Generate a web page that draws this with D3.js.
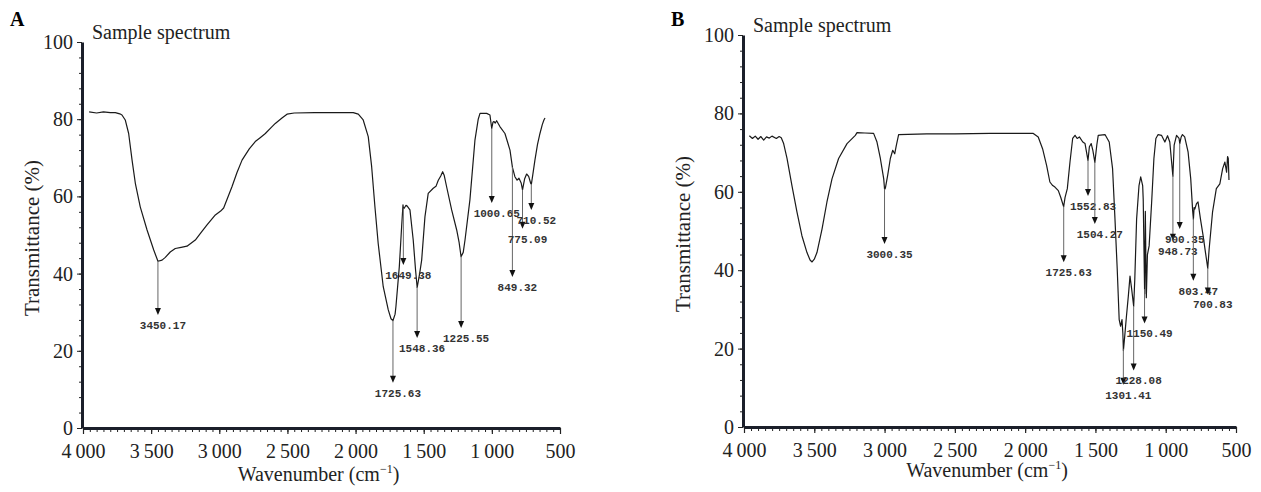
<!DOCTYPE html>
<html>
<head>
<meta charset="utf-8">
<script src="https://cdn.jsdelivr.net/npm/d3@7/dist/d3.min.js"></script>
<style>
  body { margin: 0; background: #fff; }
  svg { display: block; }
  .tick text { font-family: "Liberation Serif", "Times New Roman", serif; font-size: 20px; fill: #222; }
  .peak-label { font-family: "Liberation Mono", "DejaVu Sans Mono", monospace; font-size: 11px; font-weight: bold; fill: #333; }
</style>
</head>
<body>
<svg id="chart"></svg>
<script>
// spectrum A (wavenumber in cm-1, transmittance in %)
const specAWn = [3955, 3900, 3850, 3800, 3763, 3730, 3714, 3690, 3665, 3640, 3616, 3580, 3530, 3481, 3450, 3420, 3396, 3360, 3323, 3280, 3237, 3176, 3130, 3090, 3029, 2990, 2968, 2907, 2870, 2833, 2780, 2736, 2700, 2662, 2620, 2589, 2540, 2503, 2450, 2300, 2100, 2017, 1980, 1944, 1907, 1882, 1858, 1834, 1797, 1760, 1740, 1726, 1710, 1704, 1679, 1662, 1652, 1649, 1642, 1630, 1621, 1601, 1577, 1560, 1548, 1530, 1515, 1491, 1467, 1430, 1410, 1393, 1375, 1361, 1350, 1332, 1295, 1258, 1240, 1226, 1210, 1197, 1161, 1124, 1100, 1087, 1038, 1014, 1001, 992, 985, 975, 965, 941, 904, 867, 849, 831, 815, 801, 785, 775, 760, 745, 730, 715, 710, 700, 684, 665, 647, 630, 618, 610];
const specAT = [81.9, 81.6, 81.9, 81.7, 81.7, 81.4, 81.1, 79.8, 76.3, 69.4, 63.4, 57.3, 51.3, 46.1, 43.2, 43.5, 44.2, 45.6, 46.5, 46.8, 47.1, 48.7, 50.8, 52.6, 55.2, 56.2, 57.0, 62.5, 66.2, 69.4, 72.3, 74.2, 75.2, 76.3, 77.8, 78.9, 80.3, 81.3, 81.6, 81.7, 81.7, 81.7, 81.3, 79.8, 75.5, 67.7, 57.3, 47.8, 36.6, 30.6, 28.3, 27.8, 29.5, 31.4, 41.8, 52.2, 57.8, 56.8, 57.0, 57.7, 57.5, 56.5, 48.7, 41.0, 36.4, 40.0, 43.5, 54.7, 60.8, 62.1, 62.6, 64.2, 65.3, 66.4, 65.5, 62.5, 56.5, 51.3, 48.0, 44.4, 45.5, 48.7, 59.1, 74.6, 80.0, 81.5, 81.5, 81.1, 77.6, 79.2, 79.4, 79.0, 79.6, 78.1, 76.3, 72.0, 67.5, 65.1, 64.2, 64.7, 63.5, 61.7, 64.5, 65.8, 65.2, 63.4, 63.2, 65.5, 69.4, 73.5, 76.3, 78.6, 79.8, 80.3];
const peaksAWn = [3450.17, 1725.63, 1649.38, 1548.36, 1225.55, 1000.65, 849.32, 775.09, 710.52];
const peaksATip = [29.3, 11.7, 42.2, 23.3, 25.9, 58.3, 39.1, 51.6, 56.5];

// spectrum B
const specBWn = [3962, 3940, 3920, 3900, 3880, 3860, 3840, 3820, 3801, 3770, 3750, 3735, 3718, 3694, 3659, 3623, 3588, 3552, 3530, 3516, 3500, 3481, 3445, 3410, 3374, 3327, 3267, 3208, 3196, 3140, 3078, 3054, 3030, 3006, 3000, 2994, 2978, 2959, 2942, 2928, 2916, 2900, 2700, 2500, 2250, 2100, 1942, 1907, 1876, 1847, 1824, 1804, 1788, 1764, 1747, 1726, 1716, 1700, 1681, 1662, 1645, 1630, 1614, 1590, 1574, 1553, 1543, 1530, 1518, 1504, 1490, 1480, 1432, 1402, 1378, 1361, 1345, 1331, 1321, 1311, 1305, 1301, 1292, 1280, 1266, 1254, 1242, 1228, 1220, 1207, 1190, 1178, 1164, 1160, 1150, 1145, 1138, 1130, 1118, 1100, 1084, 1070, 1054, 1030, 1006, 987, 971, 949, 940, 923, 905, 900, 890, 881, 865, 841, 822, 808, 803, 798, 793, 781, 770, 753, 734, 717, 701, 691, 667, 640, 615, 595, 579, 567, 560, 555, 550];
const specBT = [74.3, 73.6, 74.2, 73.4, 74.1, 73.2, 74.0, 73.7, 74.2, 73.6, 74.1, 73.8, 72.3, 68.5, 61.6, 54.8, 48.8, 44.5, 42.6, 42.1, 42.8, 44.5, 50.5, 57.4, 63.3, 68.5, 72.3, 74.4, 75.1, 75.0, 74.9, 72.7, 68.5, 63.3, 60.6, 61.0, 64.2, 68.5, 70.6, 69.7, 71.9, 74.6, 74.8, 74.8, 74.9, 74.9, 74.9, 74.0, 71.0, 66.7, 62.5, 61.6, 61.2, 60.3, 58.6, 56.2, 58.6, 60.8, 67.6, 73.6, 74.4, 73.6, 74.0, 72.7, 72.3, 68.0, 71.5, 72.3, 70.5, 67.5, 72.0, 74.4, 74.6, 72.7, 65.9, 53.1, 40.3, 27.4, 25.7, 27.4, 24.0, 19.5, 23.0, 28.0, 33.4, 38.5, 35.1, 30.8, 37.7, 53.1, 61.6, 63.8, 61.6, 58.0, 34.0, 55.0, 33.0, 44.0, 46.2, 57.4, 68.5, 73.6, 74.6, 74.4, 72.7, 74.3, 72.7, 64.0, 71.9, 74.4, 73.6, 72.3, 74.0, 74.6, 74.0, 70.2, 63.3, 55.0, 53.0, 56.0, 55.6, 57.0, 57.4, 53.1, 48.8, 44.5, 40.5, 45.4, 54.8, 60.8, 62.0, 65.9, 67.6, 65.0, 69.0, 68.5, 63.0];
const peaksBWn = [3000.35, 1725.63, 1552.83, 1504.27, 1301.41, 1228.08, 1150.49, 948.73, 900.35, 803.47, 700.83];
const peaksBTip = [46.7, 42.0, 58.9, 51.8, 10.8, 14.4, 26.4, 47.5, 50.5, 37.3, 33.8];

const xTicks = [4000, 3500, 3000, 2500, 2000, 1500, 1000, 500];
const yTicks = [0, 20, 40, 60, 80, 100];

const width = 1261;
const height = 492;
const svg = d3.select('#chart').attr('width', width).attr('height', height);

const fmtX = d => d >= 1000 ? d3.format('d')(d).replace(/^(\d)/, '$1\u2009') : String(d);

// linear interpolation of a spectrum at a wavenumber
const valueAt = (wn, ts, w) => {
  for (let i = 0; i < wn.length - 1; i++) {
    if (w <= wn[i] && w >= wn[i + 1]) {
      const t = (wn[i] - w) / (wn[i] - wn[i + 1]);
      return ts[i] + t * (ts[i + 1] - ts[i]);
    }
  }
  return ts[ts.length - 1];
};

const drawPanel = (p) => {
  const g = svg.append('g');
  const x = d3.scaleLinear().domain([4000, 500]).range(p.xRange);
  const y = d3.scaleLinear().domain([0, 100]).range(p.yRange);
  const y0 = y(0);

  // minor ticks
  g.append('g')
    .attr('transform', `translate(0, ${y0})`)
    .call(d3.axisBottom(x).tickValues(d3.range(4000, 499, -50)).tickSize(4).tickFormat(''))
    .call(s => s.select('.domain').remove())
    .selectAll('line').attr('stroke', '#222');
  g.append('g')
    .attr('transform', `translate(${p.xRange[0] - 1}, 0)`)
    .call(d3.axisLeft(y).tickValues(d3.range(0, 101, 4)).tickSize(3).tickFormat(''))
    .call(s => s.select('.domain').remove())
    .selectAll('line').attr('stroke', '#222');

  // major ticks + labels
  const xAxis = g.append('g')
    .attr('transform', `translate(0, ${y0})`)
    .call(d3.axisBottom(x).tickValues(xTicks).tickSize(6).tickSizeOuter(0).tickPadding(10).tickFormat(fmtX));
  xAxis.select('.domain').attr('stroke', '#1b1f2a').attr('stroke-width', 3);
  xAxis.selectAll('.tick line').attr('stroke', '#222').attr('stroke-width', 1.2);

  const yAxis = g.append('g')
    .attr('transform', `translate(${p.xRange[0] - 1}, 0)`)
    .call(d3.axisLeft(y).tickValues(yTicks).tickSize(5).tickSizeOuter(0).tickPadding(4));
  yAxis.select('.domain').attr('stroke', '#1b1f2a').attr('stroke-width', 3);
  yAxis.selectAll('.tick line').attr('stroke', '#222');

  // spectrum
  const pts = p.wn.map((w, i) => [w, p.t[i]]);
  g.append('path')
    .datum(pts)
    .attr('fill', 'none')
    .attr('stroke', '#1a1a1a')
    .attr('stroke-width', 1.2)
    .attr('stroke-linejoin', 'round')
    .attr('d', d3.line().x(d => x(d[0])).y(d => y(d[1])));

  // peak arrows
  const peaks = p.peaks.map((w, i) => ({ w, tip: p.tips[i], start: valueAt(p.wn, p.t, w) }));
  const pk = g.append('g').selectAll('g').data(peaks).join('g');
  pk.append('line')
    .attr('x1', d => x(d.w)).attr('x2', d => x(d.w))
    .attr('y1', d => y(d.start)).attr('y2', d => y(d.tip) - 5)
    .attr('stroke', '#666').attr('stroke-width', 1);
  pk.append('path')
    .attr('d', d => `M${x(d.w) - 3},${y(d.tip) - 7}L${x(d.w) + 3},${y(d.tip) - 7}L${x(d.w)},${y(d.tip)}Z`)
    .attr('fill', '#111');
  pk.append('text')
    .attr('class', 'peak-label')
    .attr('x', d => x(d.w) + 5)
    .attr('y', d => y(d.tip) + 10)
    .attr('dy', '0.35em')
    .attr('text-anchor', 'middle')
    .text(d => d3.format('.2f')(d.w));

  // titles
  g.append('text')
    .attr('x', p.xRange[0] - 73).attr('y', 26)
    .attr('font-family', 'Liberation Serif, serif').attr('font-weight', 'bold').attr('font-size', 20)
    .text(p.letter);
  g.append('text')
    .attr('x', p.xRange[0] + 9).attr('y', y(100) - 3)
    .attr('font-family', 'Liberation Serif, serif').attr('font-size', 20).attr('fill', '#222')
    .text('Sample spectrum');
  g.append('text')
    .attr('transform', `translate(${p.xRange[0] - p.yTitleGap}, ${(y(0) + y(100)) / 2 + 3}) rotate(-90)`)
    .attr('text-anchor', 'middle')
    .attr('font-family', 'Liberation Serif, serif').attr('font-size', 21).attr('fill', '#222')
    .text('Transmittance (%)');
  const xt = g.append('text')
    .attr('x', (p.xRange[0] + p.xRange[1]) / 2 - 3).attr('y', p.xTitleY)
    .attr('text-anchor', 'middle')
    .attr('font-family', 'Liberation Serif, serif').attr('font-size', 20).attr('fill', '#222');
  xt.append('tspan').text('Wavenumber (cm');
  xt.append('tspan').attr('dy', -8).attr('font-size', 12).text('\u22121');
  xt.append('tspan').attr('dy', 8).text(')');
};

drawPanel({ letter: 'A', xRange: [83, 560], yRange: [428, 42], wn: specAWn, t: specAT,
  peaks: peaksAWn, tips: peaksATip, yTitleGap: 44, xTitleY: 481 });
drawPanel({ letter: 'B', xRange: [744, 1236], yRange: [427, 35], wn: specBWn, t: specBT,
  peaks: peaksBWn, tips: peaksBTip, yTitleGap: 54, xTitleY: 477 });
</script>
</body>
</html>
